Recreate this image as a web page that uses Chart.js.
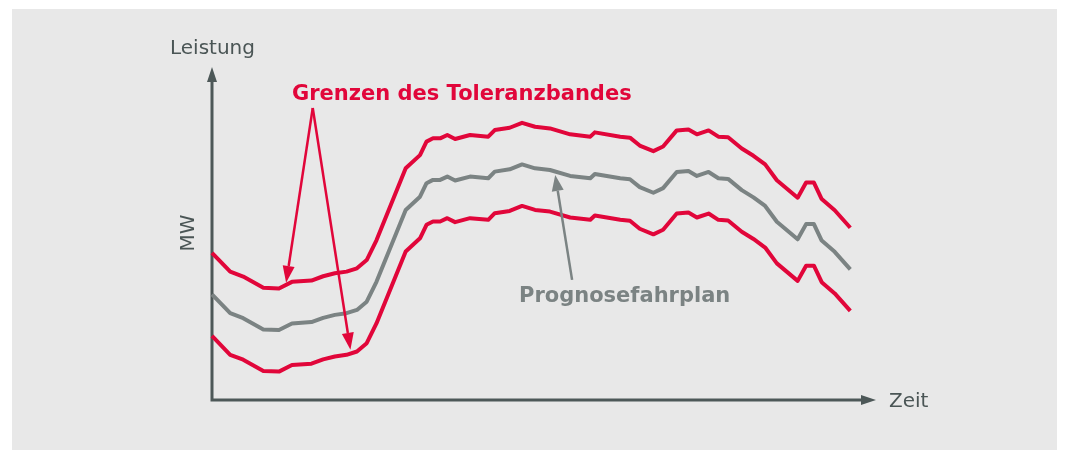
<!DOCTYPE html>
<html lang="de">
<head>
<meta charset="UTF-8">
<title>Toleranzband</title>
<script src="https://cdn.jsdelivr.net/npm/chart.js@4.4.1/dist/chart.umd.min.js"></script>
<style>
    html, body { margin: 0; padding: 0; background: #ffffff; }
    .panel {
        position: absolute;
        left: 12px; top: 9px;
        width: 1045px; height: 441px;
        background: #e8e8e8;
    }
    .chart-container {
        position: absolute;
        left: 0; top: 0;
        width: 1069px; height: 453px;
    }
</style>
</head>
<body>
<div class="panel"></div>
<div class="chart-container">
    <canvas id="chart"></canvas>
</div>

<script>
// Zeit (beliebige Einheit, 0 = Ursprung)
var zeit = [0, 2.8, 4.8, 7.9, 10.3, 12.3, 15.3, 17.1, 18.9, 20.7, 22.3, 23.8, 25.3,
    29.8, 32.0, 33.0, 34.0, 35.1, 36.2, 37.4, 39.7, 42.5, 43.5, 45.8, 47.7, 49.7,
    52.0, 55.1, 58.2, 58.9, 62.8, 64.3, 65.8, 67.9, 69.4, 71.5, 73.3, 74.6, 76.4,
    77.9, 79.4, 81.5, 83.3, 85.1, 86.9, 90.1, 91.4, 92.6, 93.8, 95.8, 98.2];

// Prognosefahrplan (MW)
var prognose = [32.0, 26.3, 24.8, 21.4, 21.2, 23.2, 23.6, 24.9, 25.8, 26.3, 27.3, 29.8, 35.8,
    57.6, 61.6, 65.7, 66.7, 66.7, 67.7, 66.5, 67.7, 67.2, 69.2, 69.9, 71.4, 70.2,
    69.7, 67.9, 67.2, 68.5, 67.2, 66.9, 64.5, 62.8, 64.2, 69.1, 69.4, 67.9, 69.1,
    67.2, 67.0, 63.6, 61.4, 58.8, 54.0, 48.7, 53.3, 53.3, 48.3, 44.9, 39.6];

// obere Grenze des Toleranzbandes
var grenzeOben = [44.6, 38.9, 37.4, 34.0, 33.8, 35.8, 36.2, 37.5, 38.4, 38.9, 39.9, 42.4, 48.4,
    70.2, 74.2, 78.3, 79.3, 79.3, 80.3, 79.1, 80.3, 79.8, 81.8, 82.5, 84.0, 82.8,
    82.3, 80.5, 79.8, 81.1, 79.8, 79.5, 77.1, 75.4, 76.8, 81.7, 82.0, 80.5, 81.7,
    79.8, 79.6, 76.2, 74.0, 71.4, 66.6, 61.3, 65.9, 65.9, 60.9, 57.5, 52.2];

// untere Grenze des Toleranzbandes
var grenzeUnten = [19.4, 13.7, 12.2, 8.8, 8.6, 10.6, 11.0, 12.3, 13.2, 13.7, 14.7, 17.2, 23.2,
    45.0, 49.0, 53.1, 54.1, 54.1, 55.1, 53.9, 55.1, 54.6, 56.6, 57.3, 58.8, 57.6,
    57.1, 55.3, 54.6, 55.9, 54.6, 54.3, 51.9, 50.2, 51.6, 56.5, 56.8, 55.3, 56.5,
    54.6, 54.4, 51.0, 48.8, 46.2, 41.4, 36.1, 40.7, 40.7, 35.7, 32.3, 27.0];

var ROT = '#e1063a';
var GRAU = '#7b8383';
var ACHSE = '#4d5858';

function punkte(werte) {
    return werte.map(function (v, i) { return { x: zeit[i], y: v }; });
}

function pfeil(ctx, x1, y1, x2, y2, farbe, breite, kopfL, kopfB) {
    var w = Math.atan2(y2 - y1, x2 - x1);
    var bx = x2 - Math.cos(w) * kopfL, by = y2 - Math.sin(w) * kopfL;
    ctx.save();
    ctx.strokeStyle = farbe;
    ctx.fillStyle = farbe;
    ctx.lineWidth = breite;
    ctx.beginPath();
    ctx.moveTo(x1, y1);
    ctx.lineTo(bx, by);
    ctx.stroke();
    ctx.beginPath();
    ctx.moveTo(x2, y2);
    ctx.lineTo(bx + Math.sin(w) * kopfB / 2, by - Math.cos(w) * kopfB / 2);
    ctx.lineTo(bx - Math.sin(w) * kopfB / 2, by + Math.cos(w) * kopfB / 2);
    ctx.closePath();
    ctx.fill();
    ctx.restore();
}

var achsen = {
    id: 'achsen',
    beforeDatasetsDraw: function (chart) {
        var ctx = chart.ctx, a = chart.chartArea;
        var x0 = chart.scales.x.getPixelForValue(0);
        var y0 = chart.scales.y.getPixelForValue(0);
        ctx.save();
        ctx.strokeStyle = ACHSE;
        ctx.lineWidth = 3;
        ctx.beginPath();
        ctx.moveTo(x0, a.top + 10);
        ctx.lineTo(x0, y0);
        ctx.lineTo(a.right - 10, y0);
        ctx.stroke();
        pfeil(ctx, x0, a.top + 12, x0, a.top - 3, ACHSE, 3, 15, 10);
        pfeil(ctx, a.right - 12, y0, a.right + 1, y0, ACHSE, 3, 15, 10);

        ctx.fillStyle = '#4a5555';
        ctx.font = '20px "DejaVu Sans"';
        ctx.textBaseline = 'alphabetic';
        ctx.textAlign = 'left';
        ctx.fillText('Leistung', 170, 54);
        ctx.fillText('Zeit', 889, 407);
        ctx.translate(194, 233);
        ctx.rotate(-Math.PI / 2);
        ctx.textAlign = 'center';
        ctx.fillText('MW', 0, 0);
        ctx.restore();
    },
    afterDatasetsDraw: function (chart) {
        var ctx = chart.ctx, sx = chart.scales.x, sy = chart.scales.y;
        // Pfeile zu den Grenzen
        var sxp = sx.getPixelForValue(15.5), syp = sy.getPixelForValue(88.5);
        pfeil(ctx, sxp, syp, sx.getPixelForValue(11.4), sy.getPixelForValue(35.5), ROT, 2.5, 17, 12);
        pfeil(ctx, sxp, syp, sx.getPixelForValue(21.3), sy.getPixelForValue(15.2), ROT, 2.5, 17, 12);
        // Pfeil zum Fahrplan
        pfeil(ctx, sx.getPixelForValue(55.4), sy.getPixelForValue(36.4),
            sx.getPixelForValue(52.8), sy.getPixelForValue(68.2), GRAU, 2.5, 16, 12);

        ctx.save();
        ctx.font = 'bold 21px "DejaVu Sans"';
        ctx.textAlign = 'left';
        ctx.fillStyle = ROT;
        ctx.fillText('Grenzen des Toleranzbandes', 292, 100);
        ctx.fillStyle = GRAU;
        ctx.fillText('Prognosefahrplan', 519, 302);
        ctx.restore();
    }
};

var ds = function (label, werte, farbe) {
    return {
        label: label,
        data: punkte(werte),
        borderColor: farbe,
        borderWidth: 4,
        borderJoinStyle: 'round',
        pointRadius: 0,
        tension: 0,
        fill: false,
        clip: false
    };
};

var chart = new Chart(document.getElementById('chart').getContext('2d'), {
    type: 'line',
    data: {
        datasets: [
            ds('Obere Grenze', grenzeOben, ROT),
            ds('Prognosefahrplan', prognose, GRAU),
            ds('Untere Grenze', grenzeUnten, ROT)
        ]
    },
    options: {
        responsive: true,
        maintainAspectRatio: false,
        animation: false,
        layout: {
            padding: { left: 212, right: 194, top: 70, bottom: 53 }
        },
        scales: {
            x: { type: 'linear', min: 0, max: 102, display: false },
            y: { min: 0, max: 100, display: false }
        },
        plugins: {
            legend: { display: false },
            tooltip: { enabled: false }
        }
    },
    plugins: [achsen]
});
</script>
</body>
</html>
